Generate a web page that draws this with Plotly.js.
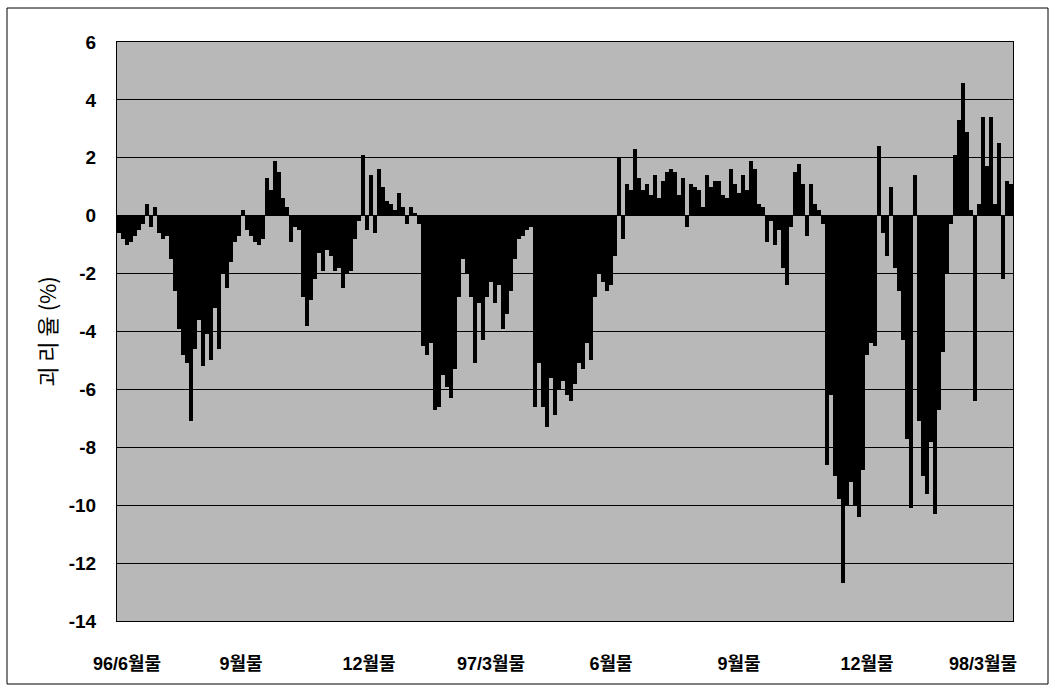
<!DOCTYPE html>
<html>
<head>
<meta charset="utf-8">
<script src="https://cdn.plot.ly/plotly-3.0.1.min.js"></script>
<style>
  html, body { margin: 0; padding: 0; background: #ffffff; }
  #chart { width: 1055px; height: 689px; }
</style>
</head>
<body>
<div id="chart"></div>
<script>
// Deviation rate (괴리율, %) — one value per bar
const seg1 = [-0.6, -0.8, -1.0, -0.9, -0.7, -0.5, -0.3, 0.4, -0.4, 0.3];
const seg2 = [-0.6, -0.8, -0.7, -1.5, -2.6, -3.9, -4.8, -5.1, -7.1, -4.6];
const seg3 = [-3.6, -5.2, -4.1, -5.0, -3.2, -4.6, -2.0, -2.5, -1.6, -0.9];
const seg4 = [-0.7, 0.2, -0.5, -0.7, -0.9, -1.0, -0.8, 1.3, 0.9, 1.9];
const seg5 = [1.5, 0.6, 0.3, -0.9, -0.4, -0.5, -2.8, -3.8, -2.9, -2.2];
const seg6 = [-1.3, -1.9, -1.2, -1.4, -1.9, -1.8, -2.5, -2.0, -1.9, -0.8];
const seg7 = [-0.2, 2.1, -0.5, 1.4, -0.6, 1.6, 1.0, 0.5, 0.4, 0.2];
const seg8 = [0.8, 0.3, -0.3, 0.3, 0.1, -0.3, -4.5, -4.8, -4.4, -6.7];
const seg9 = [-6.6, -5.5, -5.9, -6.3, -5.3, -2.8, -1.5, -2.0, -2.8, -5.1];
const seg10 = [-3.0, -4.3, -2.8, -2.3, -3.0, -2.4, -3.9, -3.4, -2.6, -1.5];
const seg11 = [-0.8, -0.7, -0.5, -0.4, -6.6, -5.1, -6.6, -7.3, -5.6, -6.9];
const seg12 = [-6.0, -5.7, -6.2, -6.4, -5.8, -5.1, -5.3, -4.4, -5.0, -2.8];
const seg13 = [-2.0, -2.3, -2.6, -2.4, -1.4, 2.0, -0.8, 1.1, 0.9, 2.3];
const seg14 = [1.3, 0.9, 1.1, 0.7, 1.4, 0.6, 1.2, 1.5, 1.6, 1.5];
const seg15 = [0.7, 1.3, -0.4, 1.1, 1.0, 0.9, 0.3, 1.4, 1.0, 1.2];
const seg16 = [1.2, 0.7, 0.6, 1.6, 1.1, 0.8, 1.4, 0.9, 1.9, 1.6];
const seg17 = [0.4, 0.3, -0.9, -0.2, -1.0, -0.5, -1.8, -2.4, -0.4, 1.5];
const seg18 = [1.8, 1.1, -0.7, 1.1, 0.4, 0.2, -0.3, -8.6, -6.2, -9.0];
const seg19 = [-9.8, -12.7, -10.0, -9.2, -10.0, -10.4, -8.8, -4.8, -4.4, -4.5];
const seg20 = [2.4, -0.6, -1.4, 1.0, -1.8, -2.6, -4.3, -7.7, -10.1, 1.4];
const seg21 = [-7.1, -9.0, -9.6, -7.8, -10.3, -6.7, -4.7, -2.0, -0.3, 2.1];
const seg22 = [3.3, 4.6, 2.9, 0.2, -6.4, 0.4, 3.4, 1.7, 3.4, 0.4];
const seg23 = [2.5, -2.2, 1.2, 1.1];

const values = [].concat(seg1, seg2, seg3, seg4, seg5, seg6, seg7, seg8, seg9, seg10,
  seg11, seg12, seg13, seg14, seg15, seg16, seg17, seg18, seg19, seg20, seg21, seg22, seg23);

// contract-month tick labels and the bar index each sits under
const tickLabels = ["96/6월물", "9월물", "12월물", "97/3월물", "6월물", "9월물", "12월물", "98/3월물"];
const tickIndex = [2, 30.5, 62.5, 93, 123, 155, 187, 216];

const yTicks = [6, 4, 2, 0, -2, -4, -6, -8, -10, -12, -14];

const xIdx = values.map((_, i) => i);

const W = 1055, H = 689;
const L = 117, R = 1013, T = 42, B = 621;
const pw = R - L, ph = B - T;
const px2paperX = (x) => (x - L) / pw;
const px2paperY = (y) => (B - y) / ph;

const numFont = "Liberation Sans Narrow, Liberation Sans, Arial, Noto Sans CJK KR, sans-serif";

const trace = {
  type: "bar",
  x: xIdx,
  y: values,
  marker: { color: "#000000", line: { width: 0 } },
  hoverinfo: "y"
};

const layout = {
  width: W,
  height: H,
  margin: { l: L, r: W - R, t: T, b: H - B, pad: 0 },
  paper_bgcolor: "#ffffff",
  plot_bgcolor: "#b8b8b8",
  bargap: 0,
  showlegend: false,
  font: { family: numFont, color: "#000000" },
  xaxis: {
    range: [-0.5, values.length - 0.5],
    tickmode: "array",
    tickvals: tickIndex,
    ticktext: tickLabels,
    ticks: "",
    showgrid: false,
    zeroline: false,
    showline: true,
    linecolor: "#000000",
    linewidth: 1,
    mirror: true,
    ticklabelstandoff: 26,
    tickfont: { family: numFont, size: 18, weight: "bold", color: "#000000" }
  },
  yaxis: {
    range: [-14, 6],
    tickmode: "array",
    tickvals: yTicks,
    ticktext: yTicks.map(String),
    ticks: "",
    showgrid: true,
    gridcolor: "#000000",
    gridwidth: 1,
    zeroline: false,
    showline: true,
    linecolor: "#000000",
    linewidth: 1,
    mirror: true,
    ticklabelstandoff: 16,
    tickfont: { family: numFont, size: 19, weight: "bold", color: "#000000" },
    title: {
      text: "괴 리 율 (%)",
      standoff: 6,
      font: { family: "Noto Sans CJK KR, sans-serif", size: 22, color: "#000000" }
    }
  },
  shapes: [
    {
      type: "rect",
      xref: "paper", yref: "paper",
      x0: px2paperX(7), x1: px2paperX(1048),
      y0: px2paperY(684), y1: px2paperY(8),
      line: { color: "#000000", width: 1 },
      fillcolor: "rgba(0,0,0,0)",
      layer: "below"
    }
  ]
};

Plotly.newPlot("chart", [trace], layout, { displayModeBar: false, staticPlot: true });
</script>
</body>
</html>
